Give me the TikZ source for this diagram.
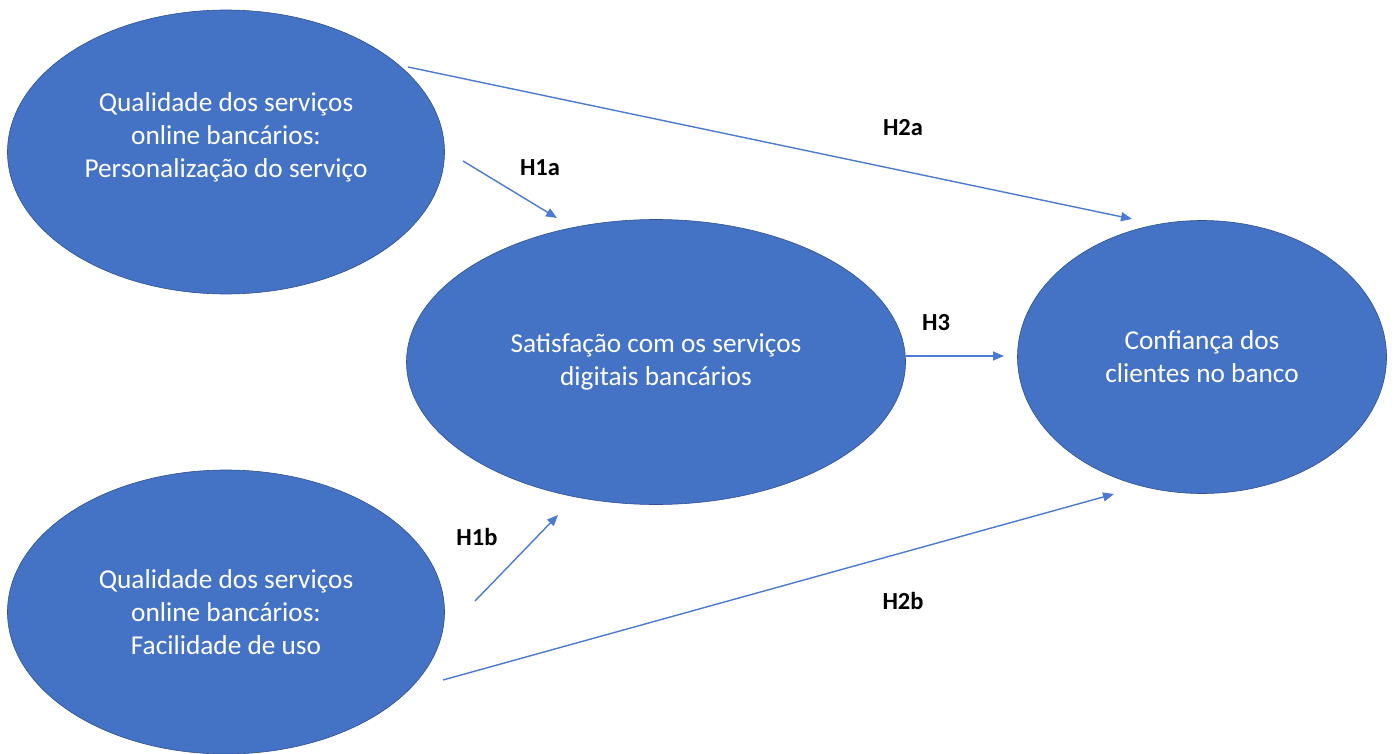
\documentclass[tikz,border=0pt]{standalone}
\usepackage{fontspec}
\setmainfont{Carlito}
\usetikzlibrary{shapes.geometric,arrows.meta}
\definecolor{ofblue}{HTML}{4472C4}
\definecolor{ofedge}{HTML}{2F528F}
\definecolor{arrblue}{HTML}{4A7BD0}
\tikzset{
  construct/.style={ellipse, fill=ofblue, draw=ofedge, line width=0.6pt, inner sep=0pt,
    text=white, align=center, font=\fontsize{27.3}{33}\selectfont},
  hyp/.style={font=\fontsize{24.5}{28}\selectfont\bfseries, text=black},
  conn/.style={draw=arrblue, line width=1.4pt, -{Triangle[length=11pt,width=9pt]}}
}
\begin{document}
\begin{tikzpicture}[x=1pt,y=-1pt]
\useasboundingbox (0,0) rectangle (1397,754);
\node[construct, minimum width=437pt, minimum height=284pt] (pers) at (226,152)
  {Qualidade dos serviços\\online bancários:\\Personalização do serviço\\\mbox{}};
\node[construct, minimum width=437pt, minimum height=284pt] (fac) at (226,612)
  {Qualidade dos serviços\\online bancários:\\Facilidade de uso};
\node[construct, minimum width=499pt, minimum height=285pt] (sat) at (656,362)
  {Satisfação com os serviços\\digitais bancários};
\node[construct, minimum width=369pt, minimum height=273pt] (conf) at (1202,357)
  {Confiança dos\\clientes no banco};

\coordinate (a1s) at (408,67);   \coordinate (a1e) at (1132,219);
\coordinate (b1s) at (463,161);  \coordinate (b1e) at (557,218);
\coordinate (c1s) at (906,356);  \coordinate (c1e) at (1004,356);
\coordinate (d1s) at (475,601);  \coordinate (d1e) at (558,515);
\coordinate (e1s) at (443,680);  \coordinate (e1e) at (1114,494);

\draw[conn] (a1s) -- (a1e);
\draw[conn] (b1s) -- (b1e);
\draw[conn] (c1s) -- (c1e);
\draw[conn] (d1s) -- (d1e);
\draw[conn] (e1s) -- (e1e);

\node[hyp] (h2a) at (903,128) {H2a};
\node[hyp] (h1a) at (540,168) {H1a};
\node[hyp] (h3) at (936,323) {H3};
\node[hyp] (h1b) at (477,537) {H1b};
\node[hyp] (h2b) at (903,601) {H2b};
\end{tikzpicture}
\end{document}
